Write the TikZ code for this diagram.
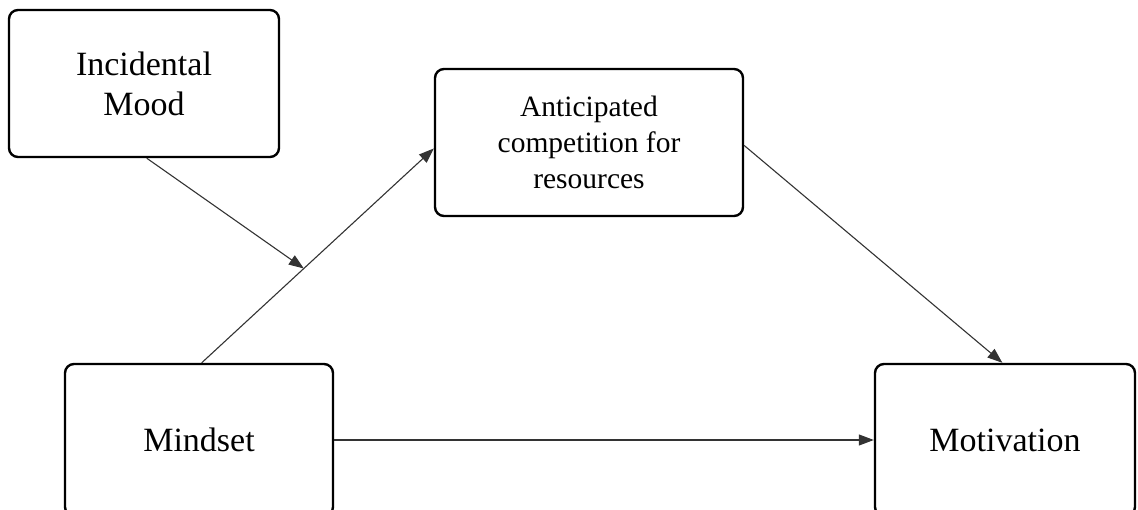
\documentclass[tikz,border=0pt]{standalone}
\usepackage{fontspec}
\setmainfont{Liberation Serif}
\usetikzlibrary{arrows.meta,calc}
\begin{document}
\begin{tikzpicture}[x=1pt,y=-1pt,
 box/.style={draw=black, line width=2.4pt, rounded corners=9pt, align=center, inner sep=0pt},
 conn/.style={draw=black!80, line width=1.1pt, -{Triangle[length=15pt,width=11pt]}},
 big/.style={font=\fontsize{34}{40}\selectfont},
 mid/.style={font=\fontsize{29.5}{36}\selectfont}]
\useasboundingbox (0,0) rectangle (1138,510);
\node[box,big,minimum width=270pt,minimum height=147pt] (mood) at (144,83.5) {Incidental\\Mood};
\node[box,mid,minimum width=308pt,minimum height=147pt] (comp) at (589,142.5) {Anticipated\\competition for\\resources};
\node[box,big,minimum width=268pt,minimum height=152pt] (mind) at (199,440) {Mindset};
\node[box,big,minimum width=260pt,minimum height=152pt] (motiv) at (1005,440) {Motivation};
\coordinate (mindtop) at ($(mind.north west)!0.51!(mind.north east)$);
\coordinate (compleft) at ($(comp.north west)!0.54!(comp.south west)$);
\coordinate (compright) at ($(comp.north east)!0.52!(comp.south east)$);
\coordinate (motivtop) at ($(motiv.north west)!0.49!(motiv.north east)$);
\coordinate (moodbot) at ($(mood.south west)!0.51!(mood.south east)$);
\coordinate (modpt) at ($(mindtop)!0.44!(compleft)$);
\draw[conn] (mindtop) -- (compleft);
\draw[conn] (compright) -- (motivtop);
\draw[conn] (mind.east) -- (motiv.west);
\draw[conn] (moodbot) -- (modpt);
\end{tikzpicture}
\end{document}
